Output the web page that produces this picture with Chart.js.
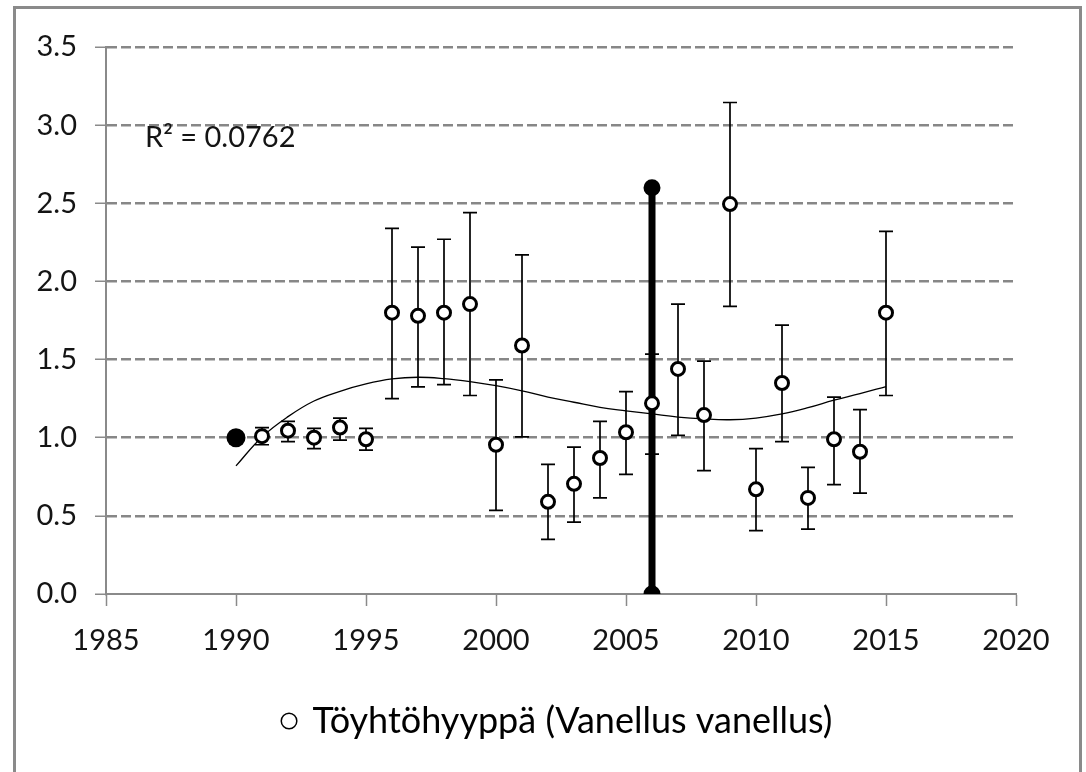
<!DOCTYPE html>
<html>
<head>
<meta charset="utf-8">
<title>Töyhtöhyyppä</title>
<script src="https://cdn.jsdelivr.net/npm/chart.js@4.4.0/dist/chart.umd.min.js"></script>
<style>
  html, body { margin:0; padding:0; background:#fff; }
  #wrap { width:1086px; height:772px; }
</style>
</head>
<body>
<div id="wrap"><canvas id="chart"></canvas></div>
<script>
'use strict';

// ---- data ----
const seriesName = 'Töyhtöhyyppä (Vanellus vanellus)';
const r2Text     = 'R² = 0.0762';

const years    = [1991,1992,1993,1994,1995,1996,1997,1998,1999,2000,2001,2002,2003,
                  2004,2005,2006,2007,2008,2009,2010,2011,2012,2013,2014,2015];
const index    = [1.01,1.045,1.00,1.065,0.99,1.80,1.78,1.80,1.855,0.955,1.59,0.59,0.705,
                  0.87,1.035,1.22,1.44,1.145,2.495,0.67,1.35,0.615,0.99,0.91,1.80];
const errHigh  = [1.065,1.105,1.06,1.125,1.06,2.34,2.22,2.27,2.44,1.37,2.17,0.83,0.94,
                  1.105,1.295,1.535,1.855,1.49,3.145,0.93,1.72,0.81,1.26,1.18,2.32];
const errLow   = [0.955,0.975,0.93,0.985,0.92,1.25,1.325,1.34,1.27,0.535,1.005,0.35,0.46,
                  0.615,0.765,0.895,1.015,0.79,1.84,0.405,0.975,0.415,0.70,0.645,1.27];

const baseYear  = [1990];
const baseIndex = [1.0];

const trendYears  = [1990,1991,1992,1993,1994,1995,1996,1997,1998,1999,2000,2001,2002,
                     2003,2004,2005,2006,2007,2008,2009,2010,2011,2012,2013,2014,2015];
const trendValues = [0.82,1.005,1.135,1.235,1.297,1.344,1.376,1.387,1.378,1.359,1.333,1.30,1.26,
                     1.227,1.194,1.172,1.152,1.132,1.12,1.115,1.126,1.152,1.192,1.24,1.282,1.327];

const breakYear   = [2006, 2006];
const breakValues = [0, 2.6];

const xMin = 1985, xMax = 2020, xStep = 5;
const yMin = 0,    yMax = 3.5,  yStep = 0.5;

const pts = (xs, ys) => xs.map((x, i) => ({ x, y: ys[i] }));

Chart.defaults.font.family = 'Lato, "Open Sans", sans-serif';
Chart.defaults.color = '#141414';

// white page + grey frame round the chart, legend nudged right like the original
const framePlugin = {
  id: 'frame',
  beforeDraw(chart) {
    const c = chart.ctx;
    c.save();
    c.fillStyle = '#fff';
    c.fillRect(0, 0, chart.width, chart.height);
    c.strokeStyle = '#8a8a8a';
    c.lineWidth = 3;
    c.strokeRect(14.5, 7.5, 1066, 820);
    c.restore();
    if (chart.legend && !chart.legend._nudged) {
      chart.legend.left += 50;
      chart.legend.right += 50;
      chart.legend._nudged = true;
    }
  }
};

// vertical error bars with caps, under the markers
const errorBarPlugin = {
  id: 'errorBars',
  beforeDatasetsDraw(chart) {
    const { ctx: c, scales: { x, y } } = chart;
    c.save();
    c.strokeStyle = '#000';
    c.lineWidth = 1.7;
    years.forEach((yr, i) => {
      const px = x.getPixelForValue(yr);
      const top = y.getPixelForValue(errHigh[i]);
      const bot = y.getPixelForValue(errLow[i]);
      c.beginPath();
      c.moveTo(px, top); c.lineTo(px, bot);
      c.moveTo(px - 7, top); c.lineTo(px + 7, top);
      c.moveTo(px - 7, bot); c.lineTo(px + 7, bot);
      c.stroke();
    });
    c.restore();
  }
};

// R² label of the trend line
const r2Plugin = {
  id: 'r2',
  afterDraw(chart) {
    const { ctx: c, scales: { x, y } } = chart;
    c.save();
    c.font = '29px ' + Chart.defaults.font.family;
    c.fillStyle = '#141414';
    c.textBaseline = 'middle';
    c.fillText(r2Text, x.getPixelForValue(1986.5), y.getPixelForValue(2.92));
    c.restore();
  }
};

new Chart(document.getElementById('chart'), {
  type: 'scatter',
  data: {
    datasets: [
      { label: seriesName, data: pts(years, index), order: 1,
        pointRadius: 6.5, pointBorderWidth: 3, pointBackgroundColor: '#fff',
        pointBorderColor: '#000', pointHoverRadius: 6.5 },
      { label: 'base', data: pts(baseYear, baseIndex), order: 2,
        pointRadius: 9.5, pointBackgroundColor: '#000', pointBorderColor: '#000', pointBorderWidth: 0 },
      { label: 'break', data: pts(breakYear, breakValues), order: 3, showLine: true,
        borderColor: '#000', borderWidth: 7, pointRadius: 5,
        pointBackgroundColor: '#000', pointBorderColor: '#000' },
      { label: 'trend', data: pts(trendYears, trendValues), order: 4, showLine: true,
        borderColor: '#000', borderWidth: 1.3, pointRadius: 0, tension: 0.4 },
    ]
  },
  options: {
    responsive: true,
    maintainAspectRatio: false,
    animation: false,
    events: [],
    layout: { padding: { left: 0, right: 70, top: 47, bottom: 23 } },
    plugins: {
      tooltip: { enabled: false },
      legend: {
        position: 'bottom',
        labels: {
          font: { size: 36 },
          color: '#141414',
          padding: 10,
          usePointStyle: true,
          boxWidth: 11,
          boxHeight: 11,
          generateLabels: () => [{
            text: seriesName, pointStyle: 'circle', fillStyle: '#fff',
            strokeStyle: '#000', lineWidth: 1.5, hidden: false, datasetIndex: 0
          }]
        }
      }
    },
    scales: {
      x: {
        type: 'linear', min: xMin, max: xMax,
        afterFit: s => { s.height = 99; },
        ticks: { stepSize: xStep, font: { size: 29 }, padding: 17, callback: v => String(v) },
        grid: { drawOnChartArea: false, tickLength: 12, tickColor: '#8a8a8a', tickWidth: 1.5 },
        border: { color: '#8a8a8a', width: 2 }
      },
      y: {
        type: 'linear', min: yMin, max: yMax,
        afterFit: s => { s.width = 106; },
        ticks: { stepSize: yStep, font: { size: 29 }, padding: 18, callback: v => v.toFixed(1) },
        grid: {
          color: ctx => ctx.tick && ctx.tick.value === 0 ? 'rgba(0,0,0,0)' : '#878787',
          lineWidth: 2.5, tickLength: 11, tickColor: '#8a8a8a', tickWidth: 1.5
        },
        border: { color: '#8a8a8a', width: 2, dash: [10, 4] }
      }
    }
  },
  plugins: [framePlugin, errorBarPlugin, r2Plugin]
});
</script>
</body>
</html>
